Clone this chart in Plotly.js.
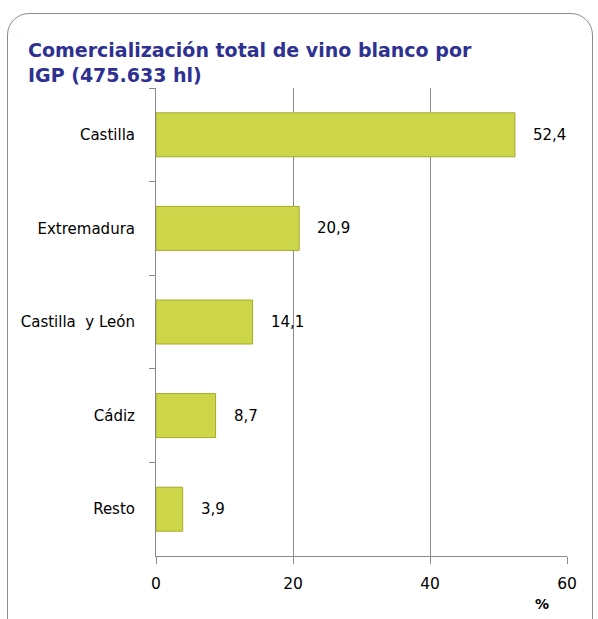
<!DOCTYPE html>
<html>
<head>
<meta charset="utf-8">
<script src="https://cdn.plot.ly/plotly-3.0.1.min.js"></script>
<style>
  html, body { margin: 0; padding: 0; background: #fff; }
  #frame { position: absolute; left: 7px; top: 13px; width: 586px; height: 640px;
           border: 1.5px solid #8c8c8c; border-radius: 22px; box-sizing: border-box; }
  #chart { position: absolute; left: 0; top: 0; width: 598px; height: 619px; }
</style>
</head>
<body>
<div id="frame"></div>
<div id="chart"></div>
<script>
const categories = ["Castilla", "Extremadura", "Castilla  y León", "Cádiz", "Resto"];
const values = [52.4, 20.9, 14.1, 8.7, 3.9];
const valueLabels = ["52,4", "20,9", "14,1", "8,7", "3,9"];
const xTicks = [0, 20, 40, 60];

const labelFont = { family: "DejaVu Sans, sans-serif", size: 15, color: "#000" };

const trace = {
  type: "bar",
  orientation: "h",
  x: values,
  y: categories,
  width: 0.47,
  marker: { color: "#cdd549", line: { color: "#a6ac2a", width: 1 } },
  hoverinfo: "none"
};

const annotations = values.map((v, i) => ({
  x: v, y: categories[i], xref: "x", yref: "y",
  text: valueLabels[i], showarrow: false, xanchor: "left", xshift: 16,
  font: labelFont
}));
annotations.push({
  xref: "paper", yref: "paper", x: 0.938, y: -0.103, xanchor: "center", yanchor: "middle",
  text: "<b>%</b>", showarrow: false, font: { family: "DejaVu Sans, sans-serif", size: 14, color: "#000" }
});

const layout = {
  width: 598, height: 619,
  margin: { l: 156, r: 31, t: 88, b: 63 },
  paper_bgcolor: "rgba(0,0,0,0)",
  plot_bgcolor: "rgba(0,0,0,0)",
  showlegend: false,
  title: {
    text: "<b>Comercialización total de vino blanco por<br>IGP (475.633 hl)</b>",
    x: 28 / 598, xanchor: "left", xref: "container",
    y: 1 - 57 / 619, yanchor: "top", yref: "container",
    font: { family: "DejaVu Sans, sans-serif", size: 19, color: "#2e3191" }
  },
  xaxis: {
    range: [0, 60], tickvals: xTicks, ticktext: xTicks.map(String),
    showgrid: true, gridcolor: "#8a8a8a", gridwidth: 1,
    zeroline: false, showline: true, linecolor: "#8a8a8a", linewidth: 1,
    ticks: "outside", ticklen: 7, tickcolor: "#8a8a8a",
    tickfont: { family: "DejaVu Sans, sans-serif", size: 15.5, color: "#000" },
    ticklabelstandoff: 6,
    fixedrange: true
  },
  yaxis: {
    autorange: "reversed", type: "category",
    showline: true, linecolor: "#8a8a8a", linewidth: 1,
    ticks: "outside", ticklen: 6, tickcolor: "#8a8a8a", tickson: "boundaries",
    showgrid: false,
    tickfont: labelFont,
    ticklabelstandoff: 17,
    fixedrange: true
  },
  annotations: annotations
};

Plotly.newPlot("chart", [trace], layout, { displayModeBar: false, staticPlot: true });
</script>
</body>
</html>
